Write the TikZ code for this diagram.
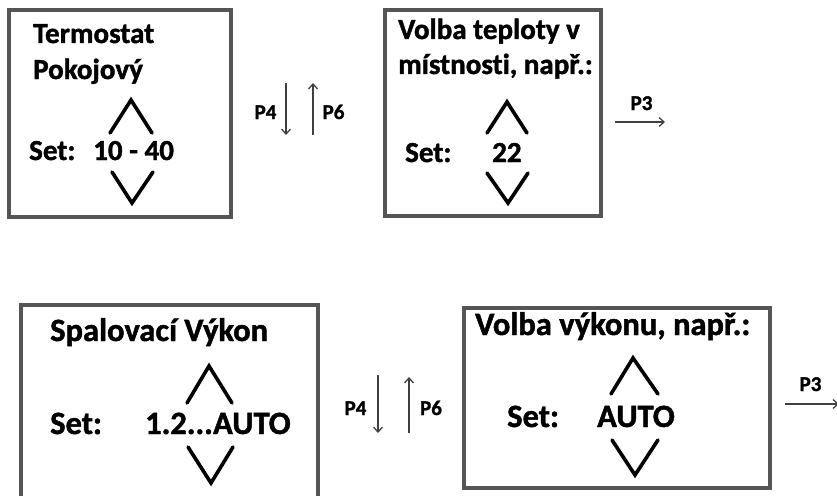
\documentclass[tikz,border=0pt]{standalone}
\usepackage{fontspec}
\setmainfont{Carlito}[BoldFont={Carlito Bold},BoldFeatures={FakeBold=1.4},Ligatures=CommonOff]
\usepackage{tikz}
\usetikzlibrary{arrows.meta}
\definecolor{framegray}{HTML}{555555}
\definecolor{keygray}{HTML}{404040}

\begin{document}
\begin{tikzpicture}[x=1pt,y=-1pt]
            \tikzstyle{panel}=[draw=framegray,line width=3.5pt]
            \tikzstyle{big text}=[anchor=base west,inner sep=0pt,font=\fontsize{29}{32}\bfseries\selectfont]
            \tikzstyle{bigger text}=[anchor=base west,inner sep=0pt,font=\fontsize{32.5}{34}\bfseries\selectfont]
            \tikzstyle{key text}=[anchor=base,inner sep=0pt,font=\fontsize{21}{22}\bfseries\selectfont]
            \tikzstyle{chevron}=[line width=3.6pt,line cap=round,line join=miter]
            \tikzstyle{key}=[draw=keygray,line width=1.3pt,-{Straight Barb[length=5pt,width=9pt]}]
            \clip (0,0) rectangle (837,495);

            % upper row
            \draw[panel] (9,10) rectangle (231,217);
            \node[big text] (term) at (33,43) {Termostat};
            \node[big text] (pokoj) at (33,79) {Pokojový};
            \node[big text] (set1) at (29,160) {Set:};
            \node[big text] (range1) at (93,160) {10 - 40};
            \draw[chevron] (110,133) -- (131,100) -- (152,133);
            \draw[chevron] (112,172) -- (132,203) -- (153,172);

            \coordinate (p4top) at (286,83);
            \coordinate (p4bot) at (286,135);
            \coordinate (p6bot) at (313,135);
            \coordinate (p6top) at (313,83);
            \draw[key] (p4top) -- (p4bot);
            \draw[key] (p6bot) -- (p6top);
            \node[key text] (p4a) at (265.5,119) {P4};
            \node[key text] (p6a) at (333.5,119) {P6};

            \draw[panel] (385,10) rectangle (601,216);
            \node[big text] (volba1) at (398,39) {Volba teploty v};
            \node[big text] (mist) at (398,74) {místnosti, např.:};
            \node[big text] (set2) at (405,162) {Set:};
            \node[big text] (val2) at (492,162) {22};
            \draw[chevron] (487,133) -- (507,102) -- (527,133);
            \draw[chevron] (487,173) -- (508,203) -- (528,173);

            \coordinate (p3aL) at (615,122);
            \coordinate (p3aR) at (665,122);
            \draw[key] (p3aL) -- (p3aR);
            \node[key text] (p3a) at (641.5,110) {P3};

            % lower row
            \draw[panel] (21,305) rectangle (318,520);
            \node[bigger text] (spal) at (50,341) {Spalovací Výkon};
            \node[bigger text] (set3) at (50,434) {Set:};
            \node[bigger text] (range3) at (145,434) {1.2...AUTO};
            \draw[chevron] (187,403) -- (209,366) -- (232,403);
            \draw[chevron] (188,447) -- (211,483) -- (233,447);

            \coordinate (q4top) at (378,375);
            \coordinate (q4bot) at (378,433);
            \coordinate (q6bot) at (409,433);
            \coordinate (q6top) at (409,377);
            \draw[key] (q4top) -- (q4bot);
            \draw[key] (q6bot) -- (q6top);
            \node[key text] (p4b) at (355.5,415) {P4};
            \node[key text] (p6b) at (431,415) {P6};

            \draw[panel] (464,308) rectangle (770,488);
            \node[bigger text] (volba2) at (475,335) {Volba výkonu, např.:};
            \node[bigger text] (set4) at (507,427) {Set:};
            \node[bigger text] (val4) at (597,427) {AUTO};
            \draw[chevron] (611,394) -- (633,358) -- (658,394);
            \draw[chevron] (612,440) -- (635,475) -- (658,440);

            \coordinate (p3bL) at (785,404);
            \coordinate (p3bR) at (839,404);
            \draw[key] (p3bL) -- (p3bR);
            \node[key text] (p3b) at (810.5,391) {P3};
\end{tikzpicture}
\end{document}
